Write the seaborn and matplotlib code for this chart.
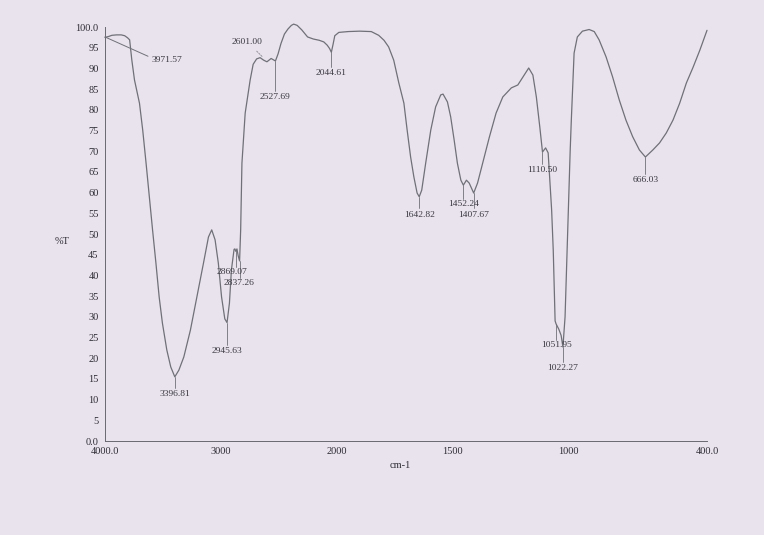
import numpy as np
import pandas as pd
import matplotlib
matplotlib.use("Agg")
import matplotlib.pyplot as plt
import seaborn as sns

# ---- data ----
wavenumber = [4000, 3970, 3940, 3900, 3860, 3830, 3805, 3787, 3768, 3745, 3702, 3674, 3645,
              3617, 3589, 3560, 3532, 3504, 3466, 3432, 3396.81, 3362, 3319, 3262, 3206,
              3149, 3106, 3078, 3049, 3021, 2993, 2965, 2945.63, 2925, 2908, 2897, 2885,
              2878, 2869.07, 2860, 2850, 2837.26, 2828, 2817, 2789, 2746, 2720, 2690, 2660,
              2630, 2601, 2565, 2527.69, 2505, 2480, 2450, 2420, 2390, 2370, 2340, 2300, 2250,
              2200, 2150, 2110, 2080, 2060, 2044.61, 2030, 2015, 1990, 1950, 1900, 1850,
              1818, 1795, 1775, 1753, 1731, 1709, 1695, 1680, 1666, 1652, 1642.82, 1632, 1615,
              1593, 1572, 1550, 1540, 1521, 1507, 1492, 1478, 1463, 1452.24, 1439, 1427,
              1407.67, 1391, 1369, 1340, 1311, 1282, 1245, 1217, 1195, 1170, 1152, 1137, 1122,
              1110.5, 1097, 1086, 1079, 1071, 1064, 1056, 1051.95, 1040, 1030, 1022.27, 1013,
              1000, 991, 986, 974, 960, 938, 909, 887, 866, 836, 808, 779, 750, 721, 692,
              666.03, 634, 605, 576, 547, 518, 489, 460, 431, 400]
transmittance = [97.5, 97.7, 98.0, 98.1, 98.1, 97.9, 97.4, 96.9, 92.0, 87.2, 81.6, 75.1, 67.1,
                 59.0, 51.0, 43.0, 34.8, 28.5, 22.0, 17.9, 15.5, 17.1, 20.3, 26.8, 34.8,
                 43.0, 49.3, 51.0, 48.6, 43.0, 34.8, 29.5, 28.6, 33.3, 41.3, 43.7, 46.3,
                 46.4, 45.8, 46.4, 44.8, 43.5, 51.0, 67.1, 79.2, 87.2, 91.0, 92.3, 92.6,
                 92.0, 91.6, 92.4, 91.8, 93.5, 96.0, 98.3, 99.5, 100.4, 100.7, 100.4, 99.3, 97.6,
                 97.1, 96.8, 96.4, 95.6, 94.8, 93.9, 95.8, 97.9, 98.7, 98.9, 99.0, 98.9,
                 98.0, 96.8, 95.2, 92.0, 86.5, 81.6, 75.1, 68.6, 63.8, 59.9, 59.0, 60.6, 67.1,
                 75.1, 80.7, 83.6, 83.8, 81.9, 78.3, 72.7, 67.1, 63.0, 61.8, 63.0, 62.3,
                 59.9, 62.3, 67.1, 73.4, 79.2, 83.1, 85.3, 86.0, 87.9, 90.1, 88.4, 83.1, 75.8,
                 69.8, 70.8, 69.6, 63.0, 55.8, 46.0, 29.0, 28.3, 27.0, 25.5, 22.7, 30.0,
                 54.0, 70.0, 77.5, 93.7, 97.6, 99.0, 99.4, 98.9, 96.9, 92.8, 88.0, 82.4, 77.5,
                 73.5, 70.3, 68.6, 70.3, 72.0, 74.4, 77.5, 81.6, 86.5, 90.3, 94.4, 99.2]

peak_wn = [3971.57, 3396.81, 2945.63, 2869.07, 2837.26, 2601.00, 2527.69, 2044.61,
           1642.82, 1452.24, 1407.67, 1110.50, 1051.95, 1022.27, 666.03]
peak_t = [97.6, 15.5, 28.6, 45.8, 43.5, 91.6, 91.8, 93.9,
          59.0, 61.8, 59.9, 69.8, 28.3, 22.7, 68.6]
peak_labels = ["3971.57", "3396.81", "2945.63", "2869.07", "2837.26", "2601.00", "2527.69",
               "2044.61", "1642.82", "1452.24", "1407.67", "1110.50", "1051.95", "1022.27",
               "666.03"]

x_ticks = [4000, 3000, 2000, 1500, 1000, 500, 400]
x_tick_labels = ["4000.0", "3000", "2000", "1500", "1000", "", "400.0"]
y_ticks = list(range(0, 101, 5))
y_tick_labels = ["0.0"] + [str(v) for v in range(5, 100, 5)] + ["100.0"]

# ---- layout (label text positions: wavenumber, %T, ha) ----
label_pos = [(3600, 92.0, "left"), (3396.81, 11.3, "center"), (2945.63, 21.8, "center"),
             (2900, 40.8, "center"), (2840, 38.2, "center"), (2770, 96.4, "center"),
             (2527.69, 83.0, "center"), (2044.61, 88.8, "center"),
             (1642.82, 54.7, "center"), (1452.24, 57.3, "center"), (1407.67, 54.7, "center"),
             (1110.50, 65.4, "center"), (1051.95, 23.2, "center"), (1022.27, 17.6, "center"),
             (666.03, 63.0, "center")]

sns.set_theme(style="white")
plt.rcParams["font.family"] = ["Liberation Serif", "DejaVu Serif"]

bg = "#e9e3ee"
fig = plt.figure(figsize=(7.64, 5.35), dpi=100, facecolor=bg)
ax = fig.add_axes([0.1374, 0.1757, 0.788, 0.7738], facecolor=bg)

def fwd(x):
    x = np.asarray(x, dtype=float)
    return np.where(x > 2000, 2000 + (x - 2000) / 2.0, x)

def inv(u):
    u = np.asarray(u, dtype=float)
    return np.where(u > 2000, 2000 + (u - 2000) * 2.0, u)

ax.set_xscale("function", functions=(fwd, inv))

df = pd.DataFrame({"wn": wavenumber, "T": transmittance})
sns.lineplot(data=df, x="wn", y="T", sort=False, ax=ax, color="#707078", lw=0.9,
             estimator=None, clip_on=False)

ax.set_xlim(4000, 400)
ax.set_ylim(0, 100)

for (wn, t, lab, (tx, ty, ha)) in zip(peak_wn, peak_t, peak_labels, label_pos):
    if lab == "2601.00":
        ax.annotate(lab, xy=(2640, 92.8), xytext=(tx, ty), ha=ha, va="center",
                    fontsize=6.8, color="#3a3840",
                    arrowprops=dict(arrowstyle="-", color="#8a8890", lw=0.6, ls=(0, (2, 1.5)),
                                    shrinkA=2, shrinkB=0))
    elif lab == "3971.57":
        ax.annotate(lab, xy=(4000, t), xytext=(tx, ty), ha=ha, va="center",
                    fontsize=6.8, color="#3a3840",
                    arrowprops=dict(arrowstyle="-", color="#707078", lw=0.7,
                                    shrinkA=0, shrinkB=0, relpos=(0, 0.8)))
    elif lab in ("2869.07", "2837.26", "1452.24", "1051.95"):
        ax.text(tx, ty, lab, ha=ha, va="center", fontsize=6.8, color="#3a3840")
        ax.plot([wn, wn], [t, ty + 1.2], color="#707078", lw=0.6)
    else:
        ax.text(tx, ty, lab, ha=ha, va="center", fontsize=6.8, color="#3a3840")
        ax.plot([wn, wn], [t, ty + 1.5], color="#707078", lw=0.6)

ax.set_xticks(x_ticks)
ax.set_xticklabels(x_tick_labels)
ax.set_yticks(y_ticks)
ax.set_yticklabels(y_tick_labels)
ax.tick_params(axis="x", direction="in", length=3, width=0.6, color="#6a6870",
               labelsize=7.5, labelcolor="#2e2c34", pad=4)
ax.tick_params(axis="y", direction="out", length=2.5, width=0.6, color="#6a6870",
               labelsize=7.5, labelcolor="#2e2c34", pad=2)

for s in ("top", "right"):
    ax.spines[s].set_visible(False)
for s in ("left", "bottom"):
    ax.spines[s].set_color("#6a6870")
    ax.spines[s].set_linewidth(0.7)

ax.set_xlabel("")
ax.set_ylabel("")
fig.text(62 / 764, 1 - 242 / 535, "%T", fontsize=7.5, color="#2e2c34", ha="center", va="center")
fig.text(400 / 764, 1 - 465 / 535, "cm-1", fontsize=7.5, color="#2e2c34", ha="center", va="center")

fig.savefig("out.png", dpi=100, facecolor=bg)
